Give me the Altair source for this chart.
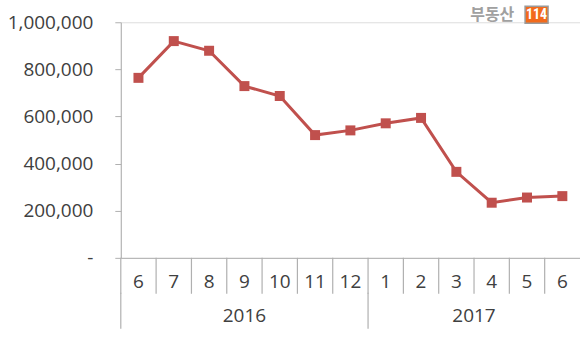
import altair as alt
import pandas as pd

months = ["6", "7", "8", "9", "10", "11", "12", "1", "2", "3", "4", "5", "6"]
years = ["2016"] * 7 + ["2017"] * 6
values = [764000, 920000, 879000, 729000, 687000, 521000, 541000,
          571000, 594000, 365000, 234000, 256000, 262000]
y_ticks = [0, 200000, 400000, 600000, 800000, 1000000]

df = pd.DataFrame({"idx": list(range(len(months))), "month": months,
                   "year": years, "value": values})

W, H = 460, 236
RED = "#C0504D"
GRID = "#B0B0B0"
TXT = "#404040"
FONT = "Open Sans"

xs = alt.Scale(domain=[-0.5, len(months) - 0.5], nice=False, zero=False)
ys = alt.Scale(domain=[0, 1000000], nice=False)

base = alt.Chart(df)

line = base.mark_line(color=RED, strokeWidth=3).encode(
    x=alt.X("idx:Q", scale=xs,
            axis=alt.Axis(domain=True, domainColor=GRID, ticks=False, labels=False,
                          grid=False, title=None)),
    y=alt.Y("value:Q", scale=ys,
            axis=alt.Axis(values=y_ticks, domainColor=GRID, tickColor=GRID, tickSize=6,
                          grid=False, title=None, labelFontSize=19, labelColor=TXT,
                          labelFont=FONT, labelPadding=22,
                          labelExpr="datum.value == 0 ? '-' : format(datum.value, ',')")),
)
pts = base.mark_point(shape="square", filled=True, size=100, color=RED, opacity=1).encode(
    x=alt.X("idx:Q", scale=xs), y=alt.Y("value:Q", scale=ys))

month_sep = base.transform_calculate(b="datum.idx - 0.5").mark_rule(
    color=GRID, strokeWidth=1.2).encode(
    x=alt.X("b:Q", scale=xs), y=alt.value(H), y2=alt.value(H + 36))

month_lbl = base.mark_text(fontSize=19, font=FONT, color=TXT, baseline="middle").encode(
    x=alt.X("idx:Q", scale=xs), y=alt.value(H + 24), text="month:N")

year_sep = base.transform_aggregate(first="min(idx)", groupby=["year"]).transform_calculate(
    b="datum.first - 0.5").mark_rule(color=GRID, strokeWidth=1.2).encode(
    x=alt.X("b:Q", scale=xs), y=alt.value(H + 35), y2=alt.value(H + 71))

year_lbl = base.transform_aggregate(mid="mean(idx)", groupby=["year"]).mark_text(
    fontSize=19, font=FONT, color=TXT, baseline="middle").encode(
    x=alt.X("mid:Q", scale=xs), y=alt.value(H + 58), text="year:N")

logo_df = pd.DataFrame({"t": ["부동산"]})
logo_txt = alt.Chart(logo_df).mark_text(fontSize=16, fontWeight="bold", color="#A0A0A0",
                                        font="Noto Sans CJK KR", align="left",
                                        baseline="middle").encode(
    x=alt.value(350), y=alt.value(-7), text="t:N")
logo_box = alt.Chart(logo_df).mark_rect(color="#F26A1B", stroke="#9A9A9A",
                                        strokeWidth=1.5).encode(
    x=alt.value(405), x2=alt.value(428), y=alt.value(-16), y2=alt.value(1))
logo_num = alt.Chart(pd.DataFrame({"t": ["114"]})).mark_text(
    fontSize=14, fontWeight="bold", color="white", font="Roboto Condensed, Roboto",
    align="center", baseline="middle").encode(
    x=alt.value(416.5), y=alt.value(-7), text="t:N")

chart = alt.layer(line, pts, month_sep, month_lbl, year_sep, year_lbl,
                  logo_box, logo_txt, logo_num).properties(
    width=W, height=H,
    padding={"left": 121, "top": 22, "right": 0, "bottom": 79},
    autosize="none",
).configure_view(stroke=None).configure(background="white")

chart.save("out.html", embed_options={"renderer": "svg", "actions": False})
